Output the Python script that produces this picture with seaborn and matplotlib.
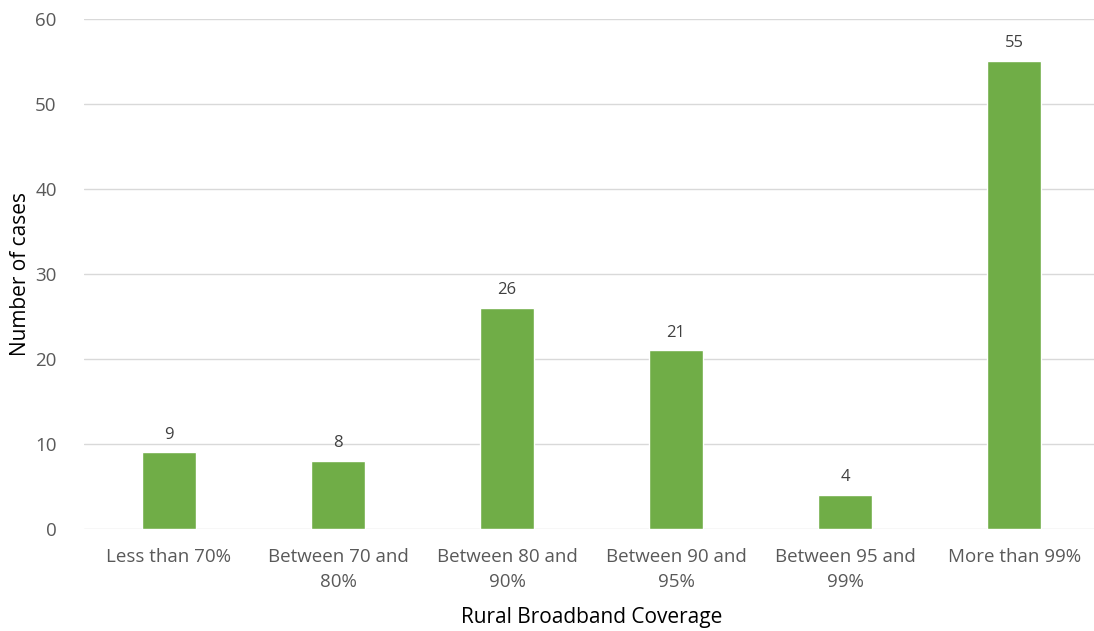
import pandas as pd
import matplotlib.pyplot as plt
import seaborn as sns

categories = ['Less than 70%', 'Between 70 and\n80%', 'Between 80 and\n90%',
              'Between 90 and\n95%', 'Between 95 and\n99%', 'More than 99%']
cases = [9, 8, 26, 21, 4, 55]

df = pd.DataFrame({'coverage': categories, 'cases': cases})

sns.set_style('white')
plt.rcParams['font.family'] = ['Open Sans', 'DejaVu Sans']

fig = plt.figure(figsize=(10.94, 6.31), dpi=100)
ax = fig.add_axes([0.0772, 0.1616, 0.927, 0.8088])

sns.barplot(data=df, x='coverage', y='cases', color='#70AD47', width=0.32,
            saturation=1, ax=ax)

for cont in ax.containers:
    ax.bar_label(cont, padding=7, fontsize=12, color='#404040')

ax.set_ylim(0, 60)
ax.set_yticks(range(0, 61, 10))
ax.set_xlim(-0.5, len(categories) - 0.5)
ax.grid(axis='y', color='#D9D9D9', linewidth=1)
ax.set_axisbelow(True)
for s in ax.spines.values():
    s.set_visible(False)

ax.tick_params(axis='both', length=0, labelsize=13.5, labelcolor='#595959')
ax.tick_params(axis='y', pad=20)
ax.tick_params(axis='x', pad=14)
for lbl in ax.get_xticklabels():
    lbl.set_linespacing(1.45)

ax.set_xlabel('Rural Broadband Coverage', fontsize=15, color='#000000', labelpad=12)
ax.set_ylabel('Number of cases', fontsize=15, color='#000000', va='center')
ax.yaxis.set_label_coords(-0.063, 0.5)

plt.savefig('out.png', dpi=100)
